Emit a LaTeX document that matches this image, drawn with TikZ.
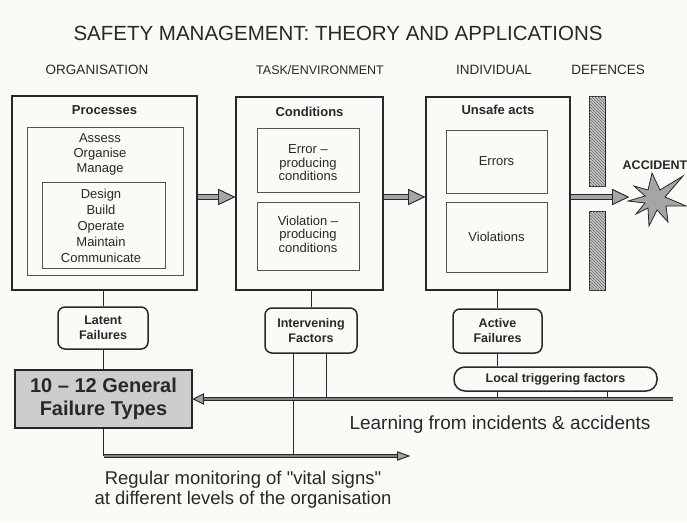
\documentclass[tikz,border=0pt]{standalone}
\usepackage{fontspec}
\setmainfont{Liberation Sans}
\usetikzlibrary{arrows.meta,patterns,calc}
\definecolor{paper}{RGB}{251,250,246}
\definecolor{ink}{RGB}{40,40,40}
\definecolor{fatgray}{RGB}{165,165,165}
\definecolor{darkshaft}{RGB}{130,130,130}
\definecolor{boxgray}{RGB}{205,205,205}
\definecolor{hatchfill}{RGB}{200,200,200}
\tikzset{
  outerbox/.style={draw=ink, line width=1.8pt, inner sep=0pt},
  innerbox/.style={draw=ink!80, line width=0.7pt, inner sep=0pt},
  roundbox/.style={draw=ink, line width=1.5pt, rounded corners=7pt, inner sep=0pt,
    align=center, text=ink, font=\fontsize{12.5}{15}\selectfont\bfseries},
  txt/.style={text=ink, align=center, font=\fontsize{13}{15}\selectfont},
  hdr/.style={text=ink, font=\fontsize{13.5}{16}\selectfont},
  boxtitle/.style={text=ink, font=\fontsize{13}{15}\selectfont\bfseries},
  conn/.style={draw=ink, line width=0.9pt},
  defence/.style={draw=ink, line width=1pt, fill=hatchfill, inner sep=0pt,
    postaction={pattern=north west lines, pattern color=ink!70}},
  fatarrow/.style n args={4}{draw=#4, line width=#1,
    -{Triangle[length=#2,width=#3,fill=fatgray,color=ink,line width=0.8pt]},
    preaction={draw=ink, line width=#1+1.8pt,
      -{Triangle[length=#2,width=#3,fill=fatgray,color=ink,line width=0.8pt]}}}
}
\begin{document}
\begin{tikzpicture}[x=1pt,y=-1pt]
\fill[paper] (0,0) rectangle (687,522);
\useasboundingbox (0,0) rectangle (687,522);

% title and headers
\node[text=ink, font=\fontsize{20.5}{24}\selectfont] (title) at (338,33) {SAFETY MANAGEMENT: THEORY AND APPLICATIONS};
\node[hdr] (h1) at (97,70) {ORGANISATION};
\node[hdr, font=\fontsize{12.5}{15}\selectfont] (h2) at (320,70) {TASK/ENVIRONMENT};
\node[hdr] (h3) at (494,70) {INDIVIDUAL};
\node[hdr] (h4) at (608,70) {DEFENCES};

% organisation
\node[outerbox, minimum width=185pt, minimum height=194pt] (org) at (104.5,193) {};
\node[boxtitle] (proc) at ($(org.north)+(0,15)$) {Processes};
\node[innerbox, minimum width=156pt, minimum height=148pt] (orgA) at (105,201) {};
\node[txt, font=\fontsize{13}{15}\selectfont] (orgAt) at (100,154) {Assess\\Organise\\Manage};
\node[innerbox, minimum width=123pt, minimum height=86pt] (orgB) at (103.5,225) {};
\node[txt, font=\fontsize{13}{16}\selectfont] (orgBt) at (101,226) {Design\\Build\\Operate\\Maintain\\Communicate};

% task / environment
\node[outerbox, minimum width=147pt, minimum height=193pt] (cond) at (309.5,193.5) {};
\node[boxtitle] (condt) at ($(cond.north)+(0,16)$) {Conditions};
\node[innerbox, minimum width=102pt, minimum height=64pt] (condE) at (308,160) {};
\node[txt, font=\fontsize{13}{13.5}\selectfont] (condEt) at (308,163) {Error --\\producing\\conditions};
\node[innerbox, minimum width=102pt, minimum height=68pt] (condV) at (308,236) {};
\node[txt, font=\fontsize{13}{13.5}\selectfont] (condVt) at (308,234) {Violation --\\producing\\conditions};

% individual
\node[outerbox, minimum width=144pt, minimum height=193pt] (ua) at (498,193.5) {};
\node[boxtitle] (uat) at ($(ua.north)+(0,14)$) {Unsafe acts};
\node[innerbox, txt, minimum width=101pt, minimum height=63pt] (uaE) at (496.5,161.5) {Errors};
\node[innerbox, txt, minimum width=101pt, minimum height=70pt] (uaV) at (496.5,237) {Violations};

% defences
\node[defence, minimum width=16pt, minimum height=90pt] (def1) at (597,141) {};
\node[defence, minimum width=16pt, minimum height=79pt] (def2) at (597,250.5) {};

% accident
\node[text=ink, font=\fontsize{12.5}{15}\selectfont\bfseries] (acc) at (655,165) {ACCIDENT};
\filldraw[fill=fatgray, draw=ink, line width=0.8pt, line join=miter]
  (628,201) -- (645,196) -- (634,186) -- (648,190) -- (652,173) -- (660,190)
  -- (683,176) -- (665,197) -- (686,206) -- (666,206) -- (668,222) -- (657,210)
  -- (649,226) -- (648,208) -- (636,214) -- (645,203) -- cycle;
\coordinate (acctip) at (629,197);
\coordinate (ay) at (0,197);

% lower nodes
\node[roundbox, minimum width=90pt, minimum height=42pt] (lat) at (103,328) {Latent\\Failures};
\node[roundbox, minimum width=92pt, minimum height=45pt] (int) at (311,330.5) {Intervening\\Factors};
\node[roundbox, minimum width=89pt, minimum height=44pt] (act) at (497.5,331) {Active\\Failures};
\node[roundbox, rounded corners=11pt, minimum width=203pt, minimum height=24pt] (loc) at (555.5,379) {Local triggering factors};
\node[draw=ink, line width=1.5pt, fill=boxgray, minimum width=177pt, minimum height=58pt,
  inner sep=0pt, align=center, text=ink, font=\fontsize{20}{23}\selectfont\bfseries]
  (gen) at (103.5,399) {10 -- 12 General\\Failure Types};

\coordinate (lrnR) at (673,399);
\coordinate (monR) at (410,456);

% thin connectors
\draw[conn] (org.south -| lat.north) -- (lat.north);
\draw[conn] (lat.south) -- (lat.south |- gen.north);
\draw[conn] (cond.south -| int.north) -- (int.north);
\draw[conn] (ua.south -| act.north) -- (act.north);
\draw[conn] (act.south) -- (act.south |- loc.north);
\draw[conn] ([xshift=15pt]int.south) -- ([xshift=15pt]int.south |- lrnR);
\draw[conn] ([xshift=-18pt]int.south) -- ([xshift=-18pt]int.south |- monR);
\draw[conn] (loc.south -| act.south) -- (act.south |- lrnR);
\draw[conn] ([xshift=52pt]loc.south) -- ([xshift=52pt]loc.south |- lrnR);
\draw[conn] (gen.south) -- (gen.south |- monR);

% fat arrows
\draw[fatarrow={3.8pt}{17pt}{16pt}{fatgray}] (org.east |- ay) -- (cond.west |- ay);
\draw[fatarrow={3.8pt}{17pt}{16pt}{fatgray}] (cond.east |- ay) -- (ua.west |- ay);
\draw[fatarrow={3.8pt}{17pt}{16pt}{fatgray}] (ua.east |- ay) -- (acctip);
\draw[fatarrow={2.8pt}{11pt}{11pt}{darkshaft}] (lrnR) -- (gen.east);
\draw[fatarrow={2.4pt}{13pt}{9pt}{darkshaft}] (gen.south |- monR) -- (monR);

% captions
\node[text=ink, font=\fontsize{19}{22}\selectfont] (lrnt) at (500,425) {Learning from incidents \& accidents};
\node[text=ink, align=center, font=\fontsize{18.5}{20}\selectfont] (mont) at (243,490)
  {Regular monitoring of \textquotedbl vital signs\textquotedbl\\at different levels of the organisation};
\end{tikzpicture}
\end{document}
